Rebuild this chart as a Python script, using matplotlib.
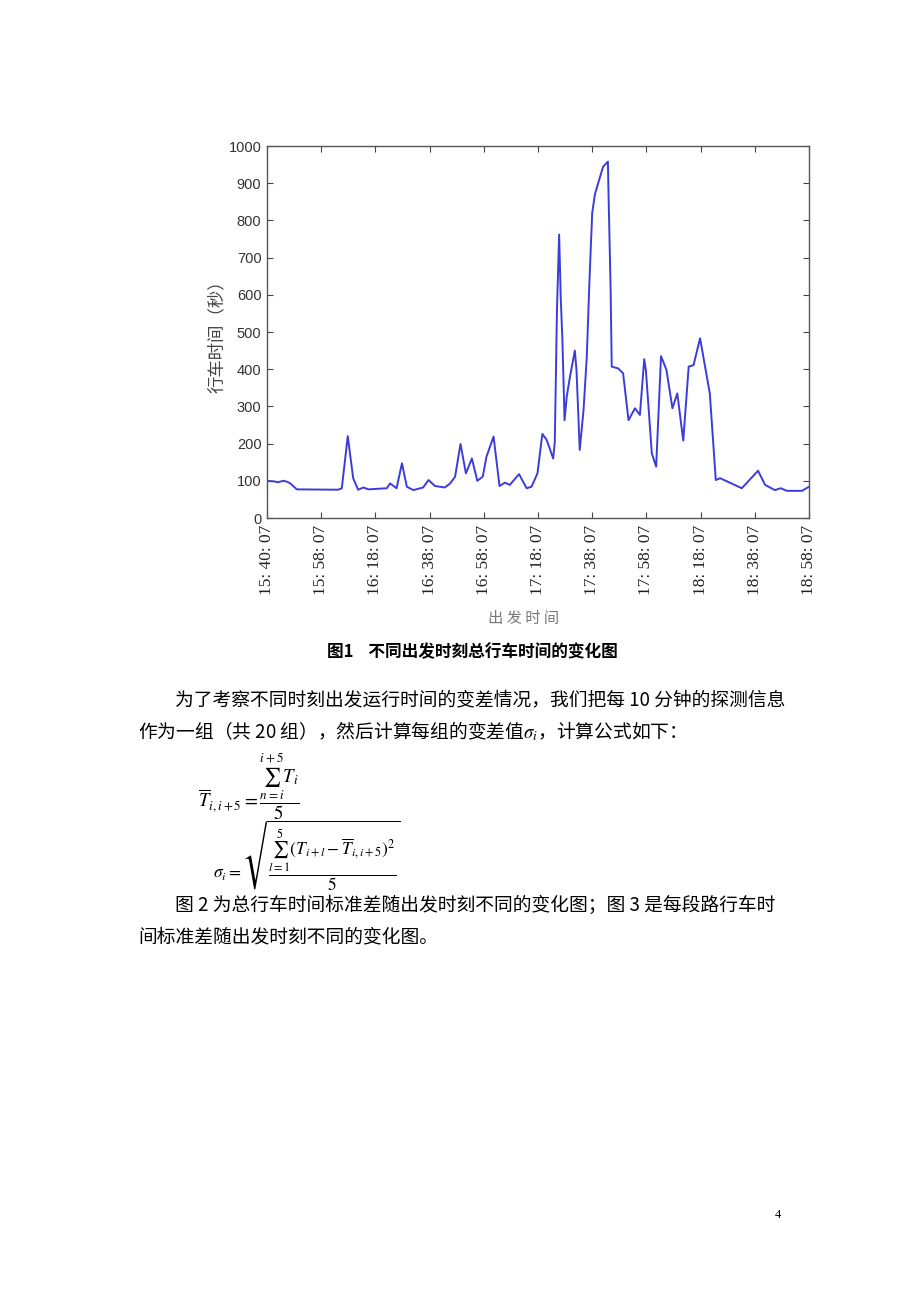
import matplotlib
matplotlib.use("Agg")
import matplotlib.pyplot as plt

plt.rcParams['font.family'] = ['Noto Sans CJK SC', 'DejaVu Sans']
plt.rcParams['mathtext.fontset'] = 'stix'
plt.rcParams['axes.unicode_minus'] = False

# sample index (0..100) and total travel time in seconds
idx = [0.0, 1.5, 2.0, 3.0, 3.6, 4.2, 5.5, 13.1, 13.8, 14.9, 15.9, 16.8, 17.8, 18.7,
       22.1, 22.7, 23.9, 24.9, 25.8, 27.0, 28.8, 29.8, 31.0, 32.8, 33.8, 34.7, 35.7,
       36.7, 37.8, 38.8, 39.8, 40.5, 41.8, 42.9, 43.9, 44.8, 46.5, 47.9, 48.8, 49.9,
       50.8, 51.6, 52.8, 53.1, 53.5, 53.9, 54.2, 54.5, 54.9, 55.3, 55.9, 56.8, 57.1,
       57.7, 58.4, 59.0, 59.5, 60.0, 60.5, 61.1, 62.0, 62.9, 63.0, 63.4, 63.6, 64.8,
       65.7, 66.7, 67.9, 68.8, 69.6, 69.9, 71.0, 71.8, 72.7, 73.7, 74.8, 75.7, 76.8,
       77.8, 78.7, 79.9, 81.7, 82.8, 83.6, 87.6, 90.6, 91.9, 93.7, 94.8, 95.9, 98.7,
       100.0]
secs = [100, 98, 96, 100, 98, 94, 77, 76, 80, 220, 107, 76, 82, 77,
        80, 93, 80, 147, 84, 75, 82, 102, 86, 82, 93, 111, 199,
        120, 160, 100, 111, 165, 219, 86, 95, 89, 118, 80, 84, 120,
        226, 210, 160, 205, 560, 762, 590, 480, 263, 326, 380, 450, 398,
        183, 290, 433, 640, 820, 870, 900, 944, 958, 880, 613, 407, 402,
        389, 263, 295, 277, 427, 398, 174, 138, 435, 398, 295, 335, 208,
        407, 411, 483, 335, 102, 107, 80, 127, 89, 75, 80, 73, 73,
        84]

tick_pos = [0, 10, 20, 30, 40, 50, 60, 70, 80, 90, 100]
tick_lab = ["15: 40: 07", "15: 58: 07", "16: 18: 07", "16: 38: 07", "16: 58: 07",
            "17: 18: 07", "17: 38: 07", "17: 58: 07", "18: 18: 07", "18: 38: 07",
            "18: 58: 07"]
yticks = [0, 100, 200, 300, 400, 500, 600, 700, 800, 900, 1000]

W, H = 920, 1302
fig = plt.figure(figsize=(W / 100, H / 100), dpi=100)
fig.patch.set_facecolor('white')

def fx(x):
    return x / W

def fy(y):
    return 1 - y / H

ax = fig.add_axes([fx(267), fy(518), fx(809) - fx(267), (518 - 146) / H])
ax.plot(idx, secs, color='#3c3cdc', lw=1.4)
ax.set_xlim(0, 100)
ax.set_ylim(0, 1000)
ax.set_yticks(yticks)
ax.set_yticklabels([str(v) for v in yticks], family='Liberation Sans',
                   fontsize=10.5, color='#333333')
ax.set_xticks(tick_pos)
ax.set_xticklabels(tick_lab, rotation=90, family='Liberation Serif',
                   fontsize=12.5, color='#222222')
ax.tick_params(direction='in', length=4, top=True, right=True, color='#444444', pad=4)
ax.tick_params(axis='x', pad=5)
for s in ax.spines.values():
    s.set_color('#555555')
    s.set_linewidth(1.0)
ax.set_ylabel("行车时间（秒）", fontsize=12.5, color='#444444', labelpad=2)

fig.text(fx(524), fy(619), "出 发 时 间", fontsize=11, color='#777777',
         ha='center', va='center')
fig.text(fx(472), fy(652), "图1    不同出发时刻总行车时间的变化图", fontsize=12,
         fontweight='bold', ha='center', va='center')

fs = 13.5
fig.text(fx(175), fy(700), "为了考察不同时刻出发运行时间的变差情况，我们把每 10 分钟的探测信息",
         fontsize=fs, va='center')
fig.text(fx(138), fy(731), r"作为一组（共 20 组），然后计算每组的变差值$\sigma_i$，计算公式如下：",
         fontsize=fs, va='center')

fig.text(fx(198), fy(787), r"$\overline{T}_{i,i+5}=\dfrac{\sum_{n=i}^{i+5}T_i}{5}$",
         fontsize=13.5, va='center')
fig.text(fx(213), fy(856),
         r"$\sigma_i=\sqrt{\dfrac{\sum_{l=1}^{5}(T_{i+l}-\overline{T}_{i,i+5})^2}{5}}$",
         fontsize=12.5, va='center')

fig.text(fx(175), fy(905), "图 2 为总行车时间标准差随出发时刻不同的变化图；图 3 是每段路行车时",
         fontsize=fs, va='center')
fig.text(fx(138), fy(937), "间标准差随出发时刻不同的变化图。", fontsize=fs, va='center')

fig.text(fx(778), fy(1215), "4", family='Liberation Serif', fontsize=9, ha='center',
         va='center')

fig.savefig("out.png", dpi=100)
